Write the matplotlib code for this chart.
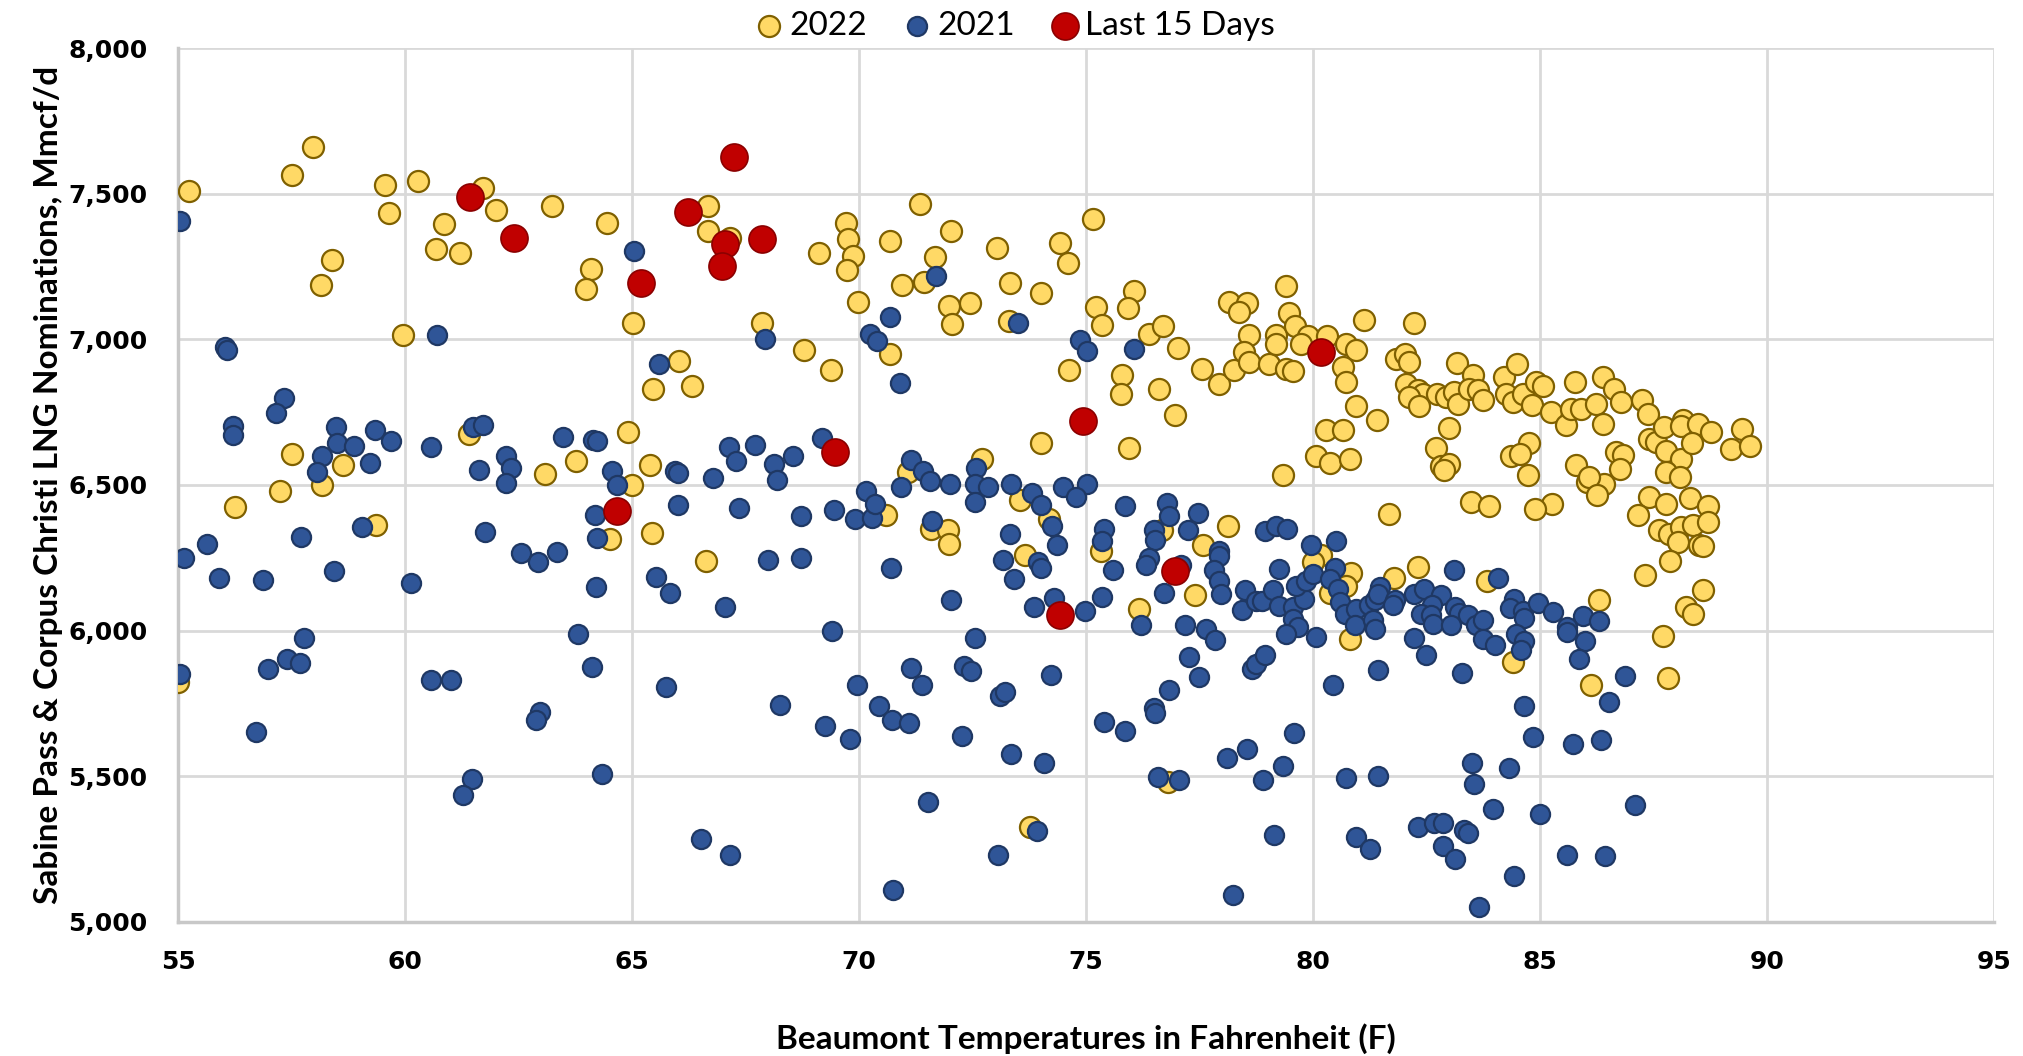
import matplotlib
matplotlib.use("Agg")
import matplotlib.pyplot as plt
from matplotlib.ticker import FuncFormatter

# ---------------- data ----------------
x2022 = [55.24, 57.98, 57.52, 59.56, 60.28, 61.71, 59.64, 62.0, 63.23, 64.45, 60.86, 60.68, 61.2, 58.4, 58.15,
         64.09, 63.98, 65.02, 59.95, 61.41, 64.92, 57.5, 58.63, 63.77, 63.09, 57.24, 58.18, 65.0, 56.25, 59.37,
         64.51, 55.0,
         66.68, 66.68, 67.15, 69.11, 69.71, 69.77, 69.88, 69.74, 69.99, 70.68, 71.35, 72.03, 71.68, 71.43, 70.95,
         71.98, 72.44, 72.04, 73.04, 73.32, 73.3, 74.02, 74.42, 74.61, 75.16, 75.23, 75.35, 67.86, 68.8, 69.39,
         66.04, 65.46, 66.33, 70.68, 74.62, 74.02, 65.39, 72.72, 71.09,
         76.05, 75.92, 76.4, 76.71, 77.03, 75.79, 75.78, 76.61, 76.97, 75.96, 77.55, 77.94, 78.26, 78.16, 78.55,
         78.38, 78.6, 78.49, 78.59, 79.03, 79.41, 79.56, 79.18, 79.18, 79.41, 79.47, 79.6, 79.89, 79.74, 80.31,
         80.73, 80.95, 80.66, 80.73, 81.12, 82.22, 80.95, 81.41, 80.29, 80.66, 80.07, 80.37, 80.82, 79.34, 81.83,
         82.02, 82.11, 82.06, 82.31, 82.42, 82.11, 82.35, 82.74, 82.94, 83.1, 83.19, 83.17, 83.52, 83.45, 83.63,
         83.74, 82.99, 82.72, 82.83, 83.01, 82.9, 84.22, 84.5, 84.26, 84.4, 84.62, 84.84, 84.92, 85.07, 85.25,
         84.77, 84.37, 84.57, 84.73,
         85.78, 86.4, 86.64, 86.79, 85.58, 85.69, 85.91, 86.24, 86.4, 86.68, 86.84, 86.77, 85.8, 86.03, 86.42,
         86.09, 87.25, 87.38, 87.41, 87.56, 87.74, 87.78, 88.11, 88.15, 88.11, 88.48, 88.35, 88.77, 87.78, 88.09,
         89.45, 89.21, 89.63,
         85.27, 86.26, 87.4, 87.78, 87.16, 88.32, 88.7, 87.63, 87.85, 88.11, 88.37, 88.7, 88.04, 88.51, 88.59,
         87.88, 87.32, 86.3, 88.59, 88.22, 88.38, 87.72, 86.13, 87.82,
         83.49, 83.89, 84.9, 81.67, 78.13, 77.58, 76.68, 75.34, 77.41, 76.16, 80.18, 80.0, 80.84, 80.73, 80.37,
         81.78, 82.31, 83.83, 80.83, 84.4, 76.81,
         65.44, 66.62, 70.59, 71.59, 71.96, 71.98, 73.54, 74.19, 73.66, 73.76]
y2022 = [7508, 7661, 7563, 7529, 7543, 7520, 7434, 7443, 7457, 7400, 7397, 7311, 7296, 7274, 7187,
         7240, 7173, 7056, 7016, 6676, 6682, 6608, 6568, 6582, 6537, 6480, 6499, 6499, 6425, 6362,
         6316, 5824,
         7457, 7371, 7349, 7296, 7399, 7343, 7285, 7237, 7127, 7337, 7466, 7371, 7283, 7198, 7187,
         7116, 7126, 7053, 7313, 7192, 7062, 7160, 7331, 7262, 7414, 7111, 7048, 7056, 6963, 6895,
         6926, 6831, 6839, 6950, 6893, 6643, 6567, 6590, 6544,
         7166, 7108, 7019, 7046, 6970, 6879, 6811, 6831, 6740, 6627, 6899, 6848, 6894, 7128, 7125,
         7094, 7015, 6956, 6922, 6914, 6899, 6890, 7015, 6985, 7183, 7090, 7046, 7010, 6985, 7010,
         6983, 6962, 6905, 6853, 7065, 7056, 6770, 6722, 6687, 6687, 6599, 6575, 6590, 6533, 6934,
         6948, 6922, 6848, 6825, 6811, 6802, 6770, 6811, 6802, 6819, 6779, 6919, 6876, 6831, 6825,
         6793, 6697, 6628, 6564, 6573, 6552, 6870, 6914, 6811, 6785, 6811, 6773, 6853, 6839, 6750,
         6644, 6598, 6605, 6533,
         6853, 6870, 6830, 6785, 6705, 6762, 6762, 6777, 6710, 6613, 6602, 6556, 6567, 6510, 6504,
         6527, 6790, 6742, 6659, 6647, 6699, 6617, 6590, 6724, 6701, 6710, 6644, 6682, 6544, 6527,
         6693, 6625, 6633,
         6433, 6464, 6459, 6436, 6396, 6455, 6429, 6346, 6333, 6356, 6361, 6373, 6304, 6293, 6289,
         6238, 6192, 6106, 6138, 6081, 6058, 5982, 5812, 5838,
         6441, 6427, 6418, 6401, 6358, 6295, 6344, 6275, 6121, 6075, 6258, 6235, 6198, 6152, 6129,
         6181, 6220, 6170, 5972, 5892, 5480,
         6336, 6239, 6398, 6350, 6344, 6298, 6447, 6384, 6261, 5325]

x2021 = [55.04, 56.03, 56.07, 60.71, 65.05, 57.33, 57.15, 56.21, 56.21, 58.48, 58.5, 58.88, 59.34, 59.7, 58.16,
         58.05, 59.22, 60.58, 61.5, 61.72, 61.63, 62.22, 62.34, 62.22, 63.48, 64.13, 64.22, 64.55, 64.67, 55.13,
         55.64, 55.9, 56.88, 57.7, 58.44, 59.06, 60.13, 61.77, 62.55, 62.93, 63.35, 64.18, 64.24, 64.2, 63.8,
         64.11, 64.35, 55.04, 56.99, 57.4, 57.68, 57.78, 56.71, 60.57, 61.02, 62.97, 62.88, 61.48, 61.28,
         71.7, 70.69, 70.25, 70.4, 70.91, 67.92, 65.59, 73.5, 74.86, 75.02, 69.19, 67.13, 67.3, 67.7, 68.12,
         68.2, 68.54, 65.94, 66.01, 66.79, 71.15, 71.41, 71.56, 72.59, 72.0, 72.55, 72.84, 73.36, 74.49, 75.02,
         70.15, 70.93,
         66.01, 67.36, 68.72, 69.44, 69.91, 70.29, 70.35, 72.56, 73.81, 74.02, 74.79, 71.61, 73.32, 74.26, 74.36,
         73.17, 73.41, 73.94, 74.02, 73.85, 74.29, 74.97, 72.02, 70.71, 65.52, 65.83, 67.04, 68.0, 68.73, 69.41,
         72.55, 71.14, 71.4, 72.31, 72.48, 74.24, 73.1, 73.21, 69.96, 65.76, 68.25, 69.26, 69.8, 70.44, 70.72,
         71.1, 72.26, 73.36, 74.07, 71.52, 66.53, 67.15, 73.06, 73.92, 70.74,
         75.87, 76.78, 76.84, 77.47, 75.39, 75.35, 76.51, 76.53, 77.25, 76.39, 76.33, 75.59, 77.1, 75.36, 76.73,
         77.94, 77.94, 77.83, 77.94, 77.98, 76.22, 77.19, 77.65, 77.85, 77.27, 77.49, 76.84, 76.51, 76.53, 75.39,
         75.87, 76.59, 77.06, 78.1, 78.55, 79.34, 78.9, 79.59, 78.25, 79.15, 78.94, 79.19, 79.43, 79.26, 78.5,
         78.44, 78.74, 78.88, 79.12, 79.26, 79.57, 79.57, 79.67, 79.41, 79.8, 79.62, 79.85, 80.0, 79.96, 80.51,
         80.48, 80.37, 80.55, 80.59, 80.72, 80.95, 80.92, 81.23, 81.36, 81.47, 81.43, 81.32, 81.38, 81.8, 81.76,
         82.24, 82.44, 82.83, 82.62, 82.39, 82.61, 82.64, 83.12, 83.14, 83.23, 83.05, 83.41, 83.6, 83.76, 83.74,
         84.02, 84.07, 84.44, 84.35, 84.64, 84.66, 84.96, 85.3, 84.48, 84.66, 84.59, 80.07, 82.24, 82.5, 81.43,
         83.29, 80.44, 78.66, 78.75, 78.95, 84.66, 84.85, 83.51, 83.56, 84.32, 83.96, 85.01, 80.73, 81.43, 82.31,
         82.68, 82.86, 83.34, 83.41, 82.86, 83.14, 80.95, 81.25, 84.44, 83.66,
         85.96, 86.3, 85.61, 85.61, 86.0, 85.87, 86.88, 86.53, 85.74, 86.35, 87.1, 85.6, 86.44, 76.07]
y2021 = [7405, 6974, 6962, 7016, 7303, 6797, 6747, 6702, 6671, 6699, 6644, 6633, 6688, 6650, 6598,
         6546, 6576, 6629, 6699, 6705, 6553, 6600, 6559, 6507, 6663, 6656, 6651, 6547, 6500, 6250,
         6297, 6181, 6173, 6323, 6204, 6355, 6162, 6339, 6267, 6236, 6269, 6397, 6319, 6151, 5988,
         5874, 5507, 5852, 5869, 5902, 5888, 5973, 5651, 5829, 5830, 5721, 5694, 5492, 5434,
         7216, 7078, 7019, 6994, 6850, 7001, 6914, 7056, 6997, 6960, 6661, 6630, 6582, 6638, 6573,
         6518, 6598, 6548, 6541, 6525, 6587, 6547, 6514, 6557, 6504, 6504, 6493, 6504, 6493, 6504,
         6480, 6493,
         6430, 6421, 6392, 6415, 6384, 6386, 6436, 6441, 6472, 6430, 6459, 6376, 6333, 6358, 6295,
         6241, 6178, 6235, 6216, 6081, 6113, 6069, 6106, 6216, 6184, 6129, 6081, 6243, 6250, 5997,
         5975, 5871, 5812, 5880, 5863, 5846, 5774, 5788, 5814, 5806, 5743, 5672, 5629, 5741, 5692,
         5684, 5638, 5575, 5546, 5411, 5283, 5228, 5231, 5312, 5110,
         6427, 6438, 6392, 6404, 6350, 6307, 6344, 6312, 6344, 6250, 6224, 6209, 6224, 6117, 6130,
         6273, 6255, 6207, 6172, 6127, 6020, 6020, 6004, 5969, 5911, 5840, 5797, 5734, 5718, 5686,
         5657, 5499, 5488, 5563, 5594, 5534, 5488, 5648, 5093, 5300, 6342, 6358, 6350, 6212, 6138,
         6072, 6101, 6101, 6140, 6083, 6081, 6041, 6012, 5989, 6109, 6152, 6170, 6195, 6293, 6307,
         6216, 6178, 6144, 6098, 6058, 6075, 6018, 6087, 6104, 6150, 6127, 6035, 6007, 6104, 6087,
         6127, 6144, 6121, 6087, 6058, 6052, 6024, 6209, 6081, 6060, 6018, 6052, 6018, 6037, 5972,
         5949, 6180, 6109, 6079, 6069, 6043, 6095, 6065, 5989, 5966, 5934, 5978, 5975, 5917, 5866,
         5854, 5812, 5869, 5886, 5915, 5740, 5634, 5545, 5472, 5529, 5388, 5369, 5495, 5500, 5325,
         5339, 5340, 5314, 5305, 5262, 5217, 5291, 5251, 5156, 5051,
         6049, 6032, 6012, 5995, 5966, 5901, 5844, 5755, 5612, 5623, 5400, 5228, 5226, 6968]

x_last15 = [61.42, 62.39, 65.2, 66.23, 67.04, 66.99, 67.25, 67.86, 69.47, 64.67, 74.94, 74.44, 76.97, 80.17]
y_last15 = [7490, 7349, 7194, 7437, 7328, 7252, 7625, 7343, 6613, 6409, 6718, 6054, 6204, 6956]

x_ticks = [55, 60, 65, 70, 75, 80, 85, 90, 95]
y_ticks = [5000, 5500, 6000, 6500, 7000, 7500, 8000]

series_labels = ["2022", "2021", "Last 15 Days"]
x_title = "Beaumont Temperatures in Fahrenheit (F)"
y_title = "Sabine Pass & Corpus Christi LNG Nominations, Mmcf/d"

# ---------------- style ----------------
COND = ["Liberation Sans Narrow", "Lato", "DejaVu Sans"]
plt.rcParams["font.family"] = ["DejaVu Sans"]

fig = plt.figure(figsize=(20.24, 10.56), dpi=100)
ax = fig.add_axes([0.088, 0.127, 0.897, 0.8275])

ax.scatter(x2022, y2022, s=230, facecolor="#FFD966", edgecolor="#7F6000", linewidth=1.6,
           label=series_labels[0], zorder=3)
ax.scatter(x2021, y2021, s=190, facecolor="#2F5597", edgecolor="#1F3864", linewidth=1.6,
           label=series_labels[1], zorder=4)
ax.scatter(x_last15, y_last15, s=380, facecolor="#C00000", edgecolor="#8B0000", linewidth=1.2,
           label=series_labels[2], zorder=5)

ax.set_xlim(55, 95)
ax.set_ylim(5000, 8000)
ax.set_xticks(x_ticks)
ax.set_yticks(y_ticks)
ax.yaxis.set_major_formatter(FuncFormatter(lambda v, p: f"{int(v):,}"))
ax.grid(True, color="#D9D9D9", linewidth=2.0, zorder=0)
ax.set_axisbelow(True)
for s in ["top", "right"]:
    ax.spines[s].set_visible(False)
for s in ["left", "bottom"]:
    ax.spines[s].set_color("#C8C8C8")
    ax.spines[s].set_linewidth(2.5)
ax.tick_params(axis="both", length=0, labelsize=18)
ax.tick_params(axis="y", pad=22)
ax.tick_params(axis="x", pad=20)
for lab in ax.get_xticklabels() + ax.get_yticklabels():
    lab.set_fontweight("bold")

ax.set_xlabel(x_title, family=COND, fontsize=24, fontweight="bold", labelpad=36)
ax.set_ylabel(y_title, family=COND, fontsize=24, fontweight="bold", labelpad=4)

leg = fig.legend(loc="upper center", bbox_to_anchor=(0.5, 1.018), ncol=3, frameon=False,
                 prop={"family": COND, "size": 24}, handletextpad=0.0, columnspacing=0.9,
                 handlelength=1.2, markerscale=1.0, scatterpoints=1)

fig.savefig("out.png", dpi=100)
